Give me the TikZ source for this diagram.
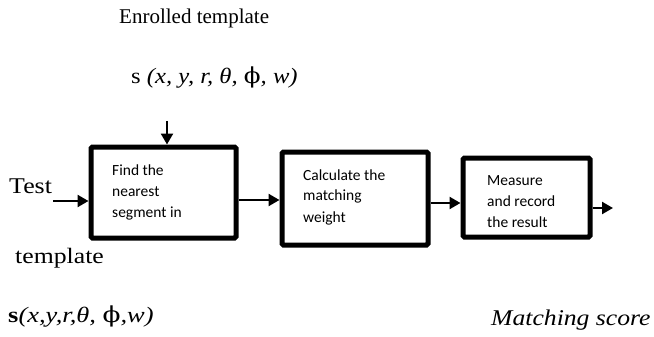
\documentclass[tikz,border=0pt]{standalone}
\usepackage{fontspec}
\setmainfont{Liberation Serif}
\newfontfamily\boxfont{Carlito}
\newfontfamily\phifont{DejaVu Serif}
\newcommand{\phisym}{{\phifont\upshape\mdseries ϕ}}
\usetikzlibrary{arrows.meta}
\begin{document}
\begin{tikzpicture}[x=1pt,y=-1pt,
  stage/.style={draw,line width=5pt,rounded corners=1.5pt,minimum width=#1},
  boxtext/.style={anchor=base west,align=left,inner sep=0pt,
    font=\boxfont\fontsize{15.5}{21}\selectfont},
  arr/.style={line width=2.4pt,-{Triangle[length=11pt,width=12pt]}},
  label/.style={inner sep=0pt,anchor=base west},
  wide/.style={xscale=#1,transform shape}]
\useasboundingbox (0,0) rectangle (654,337);

% processing stages
\node[stage=145pt,minimum height=91pt] (b1) at (163.5,192.5) {};
\node[stage=146pt,minimum height=93pt] (b2) at (355,198.5) {};
\node[stage=127pt,minimum height=79pt] (b3) at (526.5,197.5) {};

% stage descriptions (anchored at the baseline of the last line)
\node[boxtext] (t1) at (112,217) {Find the\\nearest\\segment in};
\node[boxtext] (t2) at (303,222) {Calculate the\\matching\\weight};
\node[boxtext] (t3) at (487,227) {Measure\\and record\\the result};

% labels
\node[label,font=\fontsize{21}{24}\selectfont] (enr) at (119,24) {Enrolled template};
\node[label,wide=1.12,font=\fontsize{22}{24}\selectfont] (ssig) at (131,84)
  {s \textit{(x, y, r, θ, \phisym, w)}};
\node[label,wide=1.15,font=\fontsize{22.5}{26}\selectfont] (test) at (9,193) {Test};
\node[label,wide=1.17,font=\fontsize{22}{26}\selectfont] (tmpl) at (15,263) {template};
\node[label,wide=1.2,font=\fontsize{22}{26}\selectfont] (tsig) at (8,322)
  {\textbf{s}\textit{(x,y,r,θ, \phisym,w)}};
\node[label,wide=1.14,font=\fontsize{22.5}{26}\selectfont\itshape] (score) at (491,325)
  {Matching score};

% connectors
\coordinate (din) at (167,121);
\coordinate (tin) at (53,201);
\coordinate (c12) at (238,200);
\coordinate (c23) at (430,203);
\coordinate (cout) at (613,208);
\draw[arr] (din) -- (din |- b1.north);
\draw[arr] (tin) -- (b1.west |- tin);
\draw[arr] (b1.east |- c12) -- (b2.west |- c12);
\draw[arr] (b2.east |- c23) -- (b3.west |- c23);
\draw[arr] (b3.east |- cout) -- (cout);
\end{tikzpicture}
\end{document}
